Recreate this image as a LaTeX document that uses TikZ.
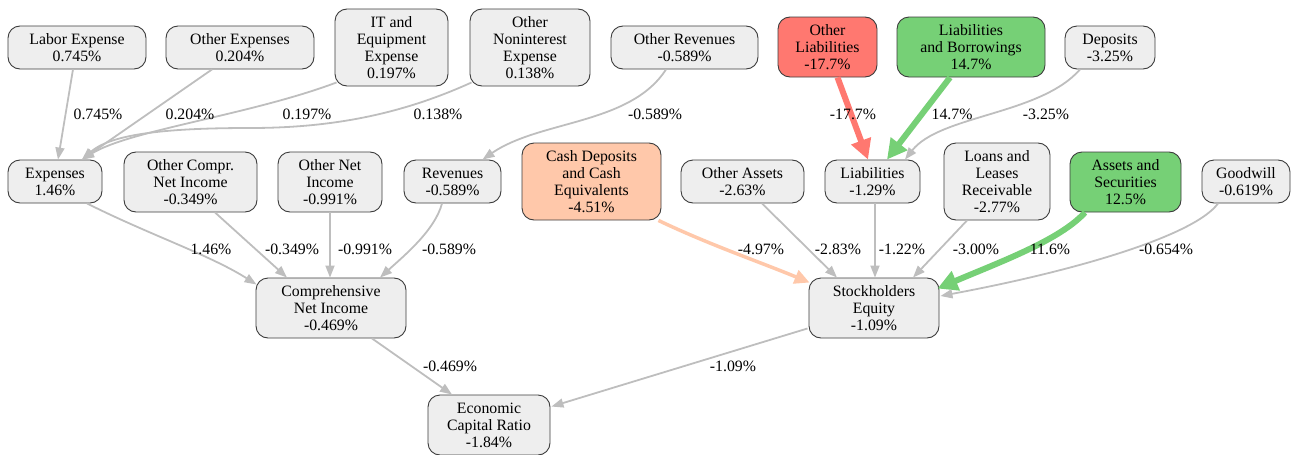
\documentclass[tikz,border=0pt]{standalone}
\usepackage{fontspec}
\setmainfont{Liberation Serif}
\usetikzlibrary{arrows.meta,calc}
\definecolor{boxfill}{RGB}{238,238,238}
\definecolor{boxdraw}{RGB}{60,60,60}
\definecolor{edgegray}{RGB}{190,190,190}
\definecolor{redfill}{RGB}{255,120,112}
\definecolor{greenfill}{RGB}{118,208,118}
\definecolor{peachfill}{RGB}{255,200,170}
\tikzset{
  box/.style={draw=boxdraw, line width=0.9pt, fill=boxfill, rounded corners=12pt,
    align=center, inner sep=0pt, font=\fontsize{15.8}{17}\selectfont},
  redbox/.style={box, fill=redfill},
  greenbox/.style={box, fill=greenfill},
  peachbox/.style={box, fill=peachfill},
  sz/.style 2 args={minimum width=#1pt, minimum height=#2pt},
  edge/.style={draw=edgegray, line width=1.8pt, -{Triangle[length=12pt,width=9pt]}},
  rededge/.style={draw=redfill, line width=6pt, -{Triangle[length=20pt,width=20pt]}},
  greenedge/.style={draw=greenfill, line width=6pt, -{Triangle[length=20pt,width=20pt]}},
  peachedge/.style={draw=peachfill, line width=3.5pt, -{Triangle[length=15pt,width=14pt]}},
  lbl/.style={inner sep=0pt, font=\fontsize{15.8}{17}\selectfont}
}
\begin{document}
\begin{tikzpicture}[x=1pt,y=-1pt]
\useasboundingbox (0,0) rectangle (1293,455);
% row 1
\node[box,sz={138}{43}] (lab) at (77,47.5) {Labor Expense\\0.745\%};
\node[box,sz={148}{43}] (oexp) at (240,47.5) {Other Expenses\\0.204\%};
\node[box,sz={113}{77}] (itx) at (391.5,47.5) {IT and\\Equipment\\Expense\\0.197\%};
\node[box,sz={120}{77}] (onie) at (530,47.5) {Other\\Noninterest\\Expense\\0.138\%};
\node[box,sz={147}{43}] (orev) at (684.5,47.5) {Other Revenues\\-0.589\%};
\node[redbox,sz={99}{60}] (olia) at (827.5,47) {Other\\Liabilities\\-17.7\%};
\node[greenbox,sz={148}{60}] (lnb) at (971,47) {Liabilities\\and Borrowings\\14.7\%};
\node[box,sz={90}{43}] (dep) at (1110,47.5) {Deposits\\-3.25\%};
% row 2
\node[box,sz={94}{43}] (exps) at (55,181.5) {Expenses\\1.46\%};
\node[box,sz={133}{60}] (ocni) at (190.5,182) {Other Compr.\\Net Income\\-0.349\%};
\node[box,sz={104}{60}] (oni) at (330,182) {Other Net\\Income\\-0.991\%};
\node[box,sz={97}{43}] (rev) at (452.5,181.5) {Revenues\\-0.589\%};
\node[peachbox,sz={139}{77}] (cash) at (591.5,181.5) {Cash Deposits\\and Cash\\Equivalents\\-4.51\%};
\node[box,sz={123}{43}] (oas) at (742.5,181.5) {Other Assets\\-2.63\%};
\node[box,sz={95}{43}] (liab) at (872.5,181.5) {Liabilities\\-1.29\%};
\node[box,sz={106}{77}] (loans) at (997,181.5) {Loans and\\Leases\\Receivable\\-2.77\%};
\node[greenbox,sz={111}{60}] (asec) at (1125.5,182) {Assets and\\Securities\\12.5\%};
\node[box,sz={88}{43}] (gw) at (1246,181.5) {Goodwill\\-0.619\%};
% row 3
\node[box,sz={150}{60}] (cni) at (331,308) {Comprehensive\\Net Income\\-0.469\%};
\node[box,sz={130}{60}] (se) at (874,308) {Stockholders\\Equity\\-1.09\%};
% row 4
\node[box,sz={122}{60}] (ecr) at (489,425) {Economic\\Capital Ratio\\-1.84\%};

% edges into Expenses
\draw[edge] ($(lab.south)+(-4,0)$) -- ($(exps.north)+(3,0)$);
\draw[edge] ($(oexp.south)+(-28,0)$) -- ($(exps.north)+(27,0)$);
\draw[edge] ($(itx.south west)+(2,-4)$) .. controls (250,115) and (130,130) .. ($(exps.north)+(27,0)$);
\draw[edge] ($(onie.south west)+(2,-4)$) .. controls (400,115) and (330,128) .. (250,128)
   .. controls (160,128) and (110,135) .. ($(exps.north)+(27,0)$);
% into Revenues
\draw[edge] ($(orev.south)+(-18.5,0)$) .. controls (630,125) and (540,120) .. ($(rev.north)+(30,0)$);
% into Liabilities
\draw[rededge] ($(olia.south)+(10,0)$) -- ($(liab.north)+(-4.5,0)$);
\draw[greenedge] ($(lnb.south)+(-21,0)$) -- ($(liab.north)+(14.5,0)$);
\draw[edge] ($(dep.south)+(-30,0)$) .. controls (1040,115) and (940,115) .. ($(liab.north)+(32.5,0)$);
% into CNI
\draw[edge] ($(exps.south)+(32,0)$) .. controls (150,235) and (210,255) .. ($(cni.north west)+(1,7)$);
\draw[edge] ($(ocni.south)+(24.5,0)$) -- ($(cni.north)+(-44,0)$);
\draw[edge] (oni.south) -- ($(cni.north)+(-1,0)$);
\draw[edge] ($(rev.south)+(-10.5,0)$) .. controls (435,230) and (405,255) .. ($(cni.north)+(49,0)$);
% into SE
\draw[peachedge] ($(cash.south east)+(-3,0)$) .. controls (710,245) and (760,262) .. ($(se.north west)+(1,5)$);
\draw[edge] ($(oas.south)+(19.5,0)$) -- ($(se.north)+(-37,0)$);
\draw[edge] ($(liab.south)+(2.5,0)$) -- ($(se.north)+(1,0)$);
\draw[edge] ($(loans.south)+(-30,0)$) -- ($(se.north)+(39,0)$);
\draw[greenedge] ($(asec.south)+(-40.5,0)$) .. controls (1060,240) and (1000,262) .. ($(se.north east)+(-2,11)$);
\draw[edge] ($(gw.south)+(-28,0)$) .. controls (1195,235) and (1080,270) .. ($(se.east)+(1,-12)$);
% into ECR
\draw[edge] ($(cni.south)+(41,0)$) -- ($(ecr.north)+(-37,0)$);
\draw[edge] ($(se.south west)+(-1,-10)$) -- ($(ecr.north east)+(1,12)$);

% labels
\node[lbl] (l1) at (98,114) {0.745\%};
\node[lbl] (l2) at (190,114) {0.204\%};
\node[lbl] (l3) at (307,114) {0.197\%};
\node[lbl] (l4) at (438,114) {0.138\%};
\node[lbl] (l5) at (655,114) {-0.589\%};
\node[lbl] (l6) at (853,114) {-17.7\%};
\node[lbl] (l7) at (952,114) {14.7\%};
\node[lbl] (l8) at (1046,114) {-3.25\%};
\node[lbl] (l9) at (211,249) {1.46\%};
\node[lbl] (l10) at (292,249) {-0.349\%};
\node[lbl] (l11) at (365,249) {-0.991\%};
\node[lbl] (l12) at (449,249) {-0.589\%};
\node[lbl] (l13) at (761,249) {-4.97\%};
\node[lbl] (l14) at (838,249) {-2.83\%};
\node[lbl] (l15) at (902,249) {-1.22\%};
\node[lbl] (l16) at (976,249) {-3.00\%};
\node[lbl] (l17) at (1050,249) {11.6\%};
\node[lbl] (l18) at (1166,249) {-0.654\%};
\node[lbl] (l19) at (450,366) {-0.469\%};
\node[lbl] (l20) at (733,366) {-1.09\%};
\end{tikzpicture}
\end{document}
